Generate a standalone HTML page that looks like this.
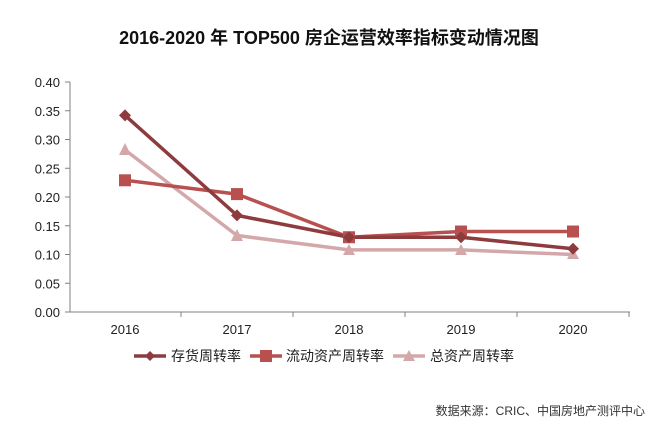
<!DOCTYPE html>
<html><head><meta charset="utf-8"><style>
body{margin:0;background:#fff;}
svg text{font-family:"Liberation Sans","Noto Sans CJK SC",sans-serif;}
</style></head><body>
<svg width="657" height="431" xmlns="http://www.w3.org/2000/svg">
<rect width="657" height="431" fill="#fff"/>
<text x="329" y="44" text-anchor="middle" font-size="18" font-weight="bold" fill="#111">2016-2020 年 TOP500 房企运营效率指标变动情况图</text>
<g stroke="#808080" stroke-width="1">
<line x1="70" y1="82" x2="70" y2="312"/>
<line x1="70" y1="312" x2="630" y2="312"/>
<line x1="65" y1="82" x2="70" y2="82"/><line x1="65" y1="110.75" x2="70" y2="110.75"/>
<line x1="65" y1="139.5" x2="70" y2="139.5"/><line x1="65" y1="168.25" x2="70" y2="168.25"/>
<line x1="65" y1="197" x2="70" y2="197"/><line x1="65" y1="225.75" x2="70" y2="225.75"/>
<line x1="65" y1="254.5" x2="70" y2="254.5"/><line x1="65" y1="283.25" x2="70" y2="283.25"/>
<line x1="65" y1="312" x2="70" y2="312"/>
<line x1="181" y1="312" x2="181" y2="317"/><line x1="293" y1="312" x2="293" y2="317"/>
<line x1="405" y1="312" x2="405" y2="317"/><line x1="517" y1="312" x2="517" y2="317"/>
<line x1="629" y1="312" x2="629" y2="317"/>
</g>
<g font-size="13" fill="#222" text-anchor="end">
<text x="60" y="87">0.40</text><text x="60" y="115.75">0.35</text><text x="60" y="144.5">0.30</text>
<text x="60" y="173.25">0.25</text><text x="60" y="202">0.20</text><text x="60" y="230.75">0.15</text>
<text x="60" y="259.5">0.10</text><text x="60" y="288.25">0.05</text><text x="60" y="317">0.00</text>
</g>
<g font-size="13" fill="#222" text-anchor="middle">
<text x="125" y="334">2016</text><text x="237" y="334">2017</text><text x="349" y="334">2018</text>
<text x="461" y="334">2019</text><text x="573" y="334">2020</text>
</g>
<polyline points="125,149.9 237,235.5 349,249.9 461,249.9 573,254.5" fill="none" stroke="#d4a8aa" stroke-width="3.5"/>
<polyline points="125,180.3 237,194.1 349,237.25 461,231.5 573,231.5" fill="none" stroke="#b85050" stroke-width="3.5"/>
<polyline points="125,115.35 237,215.4 349,237.25 461,237.25 573,248.75" fill="none" stroke="#8e3b3e" stroke-width="3.5"/>
<g fill="#d4a8aa">
<polygon points="125,143 131,155 119,155"/><polygon points="237,229 243,241 231,241"/>
<polygon points="349,244 355,255 343,255"/><polygon points="461,244 467,255 455,255"/>
<polygon points="573,248 579,259 567,259"/>
</g>
<g fill="#b85050">
<rect x="119" y="174.3" width="12" height="12"/><rect x="231" y="188.1" width="12" height="12"/>
<rect x="343" y="231.25" width="12" height="12"/><rect x="455" y="225.5" width="12" height="12"/>
<rect x="567" y="225.5" width="12" height="12"/>
</g>
<g fill="#8e3b3e">
<polygon points="125,109.35 131,115.35 125,121.35 119,115.35"/><polygon points="237,209.4 243,215.4 237,221.4 231,215.4"/>
<polygon points="349,231.25 355,237.25 349,243.25 343,237.25"/><polygon points="461,231.25 467,237.25 461,243.25 455,237.25"/>
<polygon points="573,242.75 579,248.75 573,254.75 567,248.75"/>
</g>
<line x1="134" y1="356" x2="166" y2="356" stroke="#8e3b3e" stroke-width="3.5"/>
<polygon points="150,351 155,356 150,361 145,356" fill="#8e3b3e"/>
<text x="171" y="361" font-size="14" fill="#222">存货周转率</text>
<line x1="250" y1="356" x2="282" y2="356" stroke="#b85050" stroke-width="3.5"/>
<rect x="260" y="350" width="12" height="12" fill="#b85050"/>
<text x="286" y="361" font-size="14" fill="#222">流动资产周转率</text>
<line x1="393" y1="356" x2="425" y2="356" stroke="#d4a8aa" stroke-width="3.5"/>
<polygon points="409,350 415,361 403,361" fill="#d4a8aa"/>
<text x="430" y="361" font-size="14" fill="#222">总资产周转率</text>
<text x="645" y="415" text-anchor="end" font-size="12" fill="#333">数据来源：CRIC、中国房地产测评中心</text>
</svg>
</body></html>
